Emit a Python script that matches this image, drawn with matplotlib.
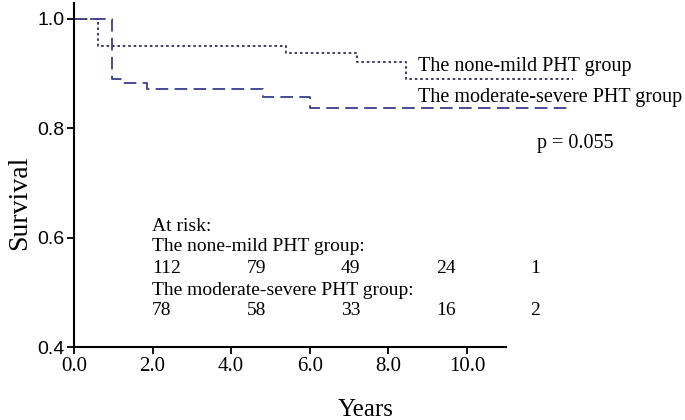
import numpy as np
import matplotlib.pyplot as plt

# Kaplan-Meier curves (years, survival)
mild_t = [0.0, 0.6, 5.4, 7.2, 8.45, 12.7]
mild_s = [1.0, 0.951, 0.938, 0.921, 0.890, 0.890]
mod_t = [0.0, 0.97, 1.22, 1.85, 4.8, 6.0, 12.6]
mod_s = [1.0, 0.890, 0.883, 0.872, 0.857, 0.837, 0.837]

risk_mild = [112, 79, 49, 24, 1]
risk_mod = [78, 58, 33, 16, 2]
risk_x = [1.98, 4.40, 6.79, 9.21, 11.60]

xticks = [0, 2, 4, 6, 8, 10]
yticks = [0.4, 0.6, 0.8, 1.0]

serif = 'Liberation Serif'
sans = 'Liberation Sans'
plt.rcParams['font.family'] = serif

fig = plt.figure(figsize=(6.85, 4.2), dpi=100)
ax = fig.add_axes([74/685, 73/420, 503/685, 344/420])

ax.step(mild_t, mild_s, where='post', color='#2c2c58', lw=1.3,
        linestyle=(0, (1.4, 1.6)))
ax.step(mod_t, mod_s, where='post', color='#3c3c8c', lw=1.3,
        linestyle=(0, (7, 3.5)))

ax.set_xlim(0, 12.8)
ax.set_ylim(0.4, 1.029)
ax.spines['top'].set_visible(False)
ax.spines['right'].set_visible(False)
ax.spines['bottom'].set_bounds(0, 11)
for s in ('left', 'bottom'):
    ax.spines[s].set_linewidth(1.5)

ax.set_xticks(xticks)
ax.set_xticklabels([f'{v:.1f}' for v in xticks], fontsize=15, family=serif)
ax.set_yticks(yticks)
ax.set_yticklabels([f'{v:.1f}' for v in yticks], fontsize=14, family=sans)
ax.tick_params(direction='out', length=5, width=1.3, pad=2)

ax.set_ylabel('Survival', fontsize=20)
ax.yaxis.set_label_coords(-0.083, 0.42)
ax.set_xlabel('Years', fontsize=18)
ax.xaxis.set_label_coords(0.579, -0.15)

fs = 14.5
ax.text(8.75, 0.912, 'The none-mild PHT group', fontsize=fs, va='center', clip_on=False)
ax.text(8.75, 0.857, 'The moderate-severe PHT group', fontsize=fs, va='center', clip_on=False)
ax.text(11.78, 0.773, 'p = 0.055', fontsize=fs, va='center', clip_on=False)

fr = 14
ax.text(1.98, 0.621, 'At risk:', fontsize=fr, va='center')
ax.text(1.98, 0.583, 'The none-mild PHT group:', fontsize=fr, va='center')
ax.text(1.98, 0.504, 'The moderate-severe PHT group:', fontsize=fr, va='center')
for x, a, b in zip(risk_x, risk_mild, risk_mod):
    ax.text(x, 0.544, str(a), fontsize=fr, va='center')
    ax.text(x, 0.466, str(b), fontsize=fr, va='center')

fig.savefig('out.png', dpi=100)
